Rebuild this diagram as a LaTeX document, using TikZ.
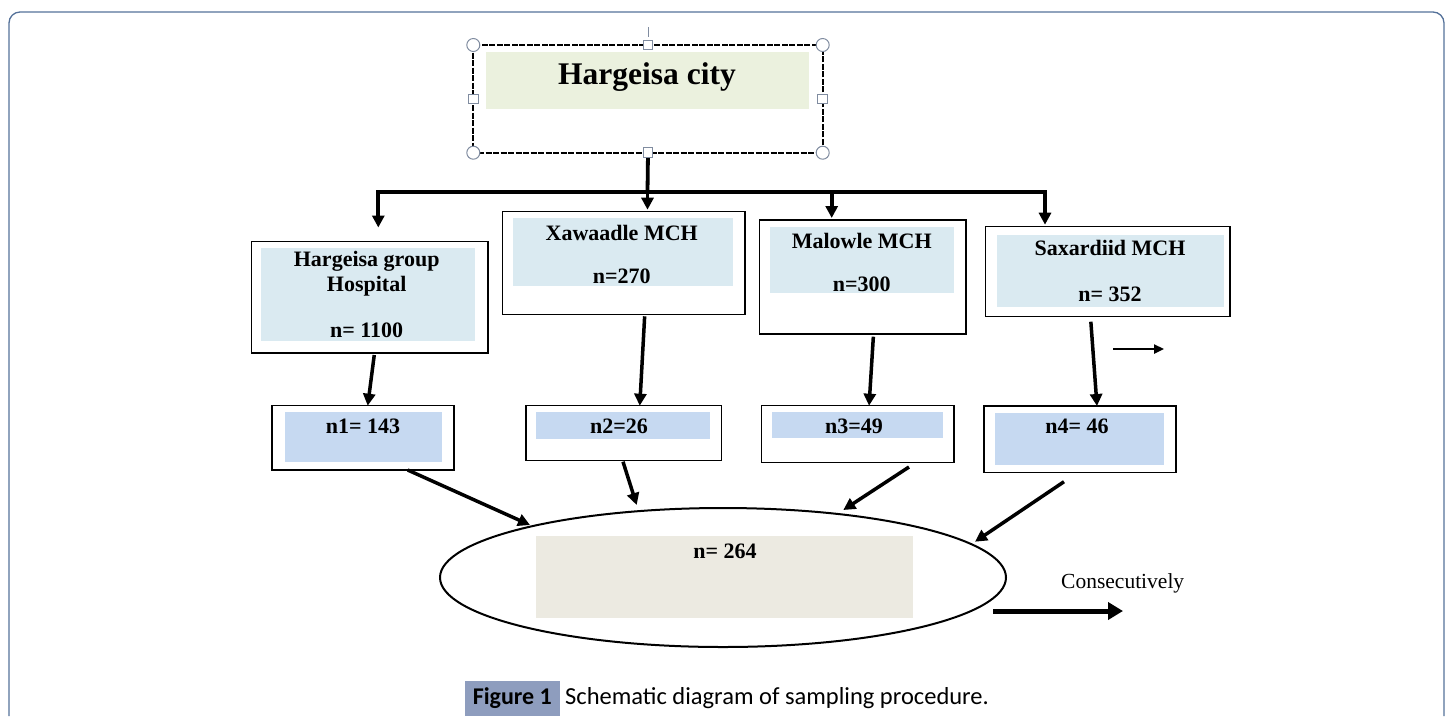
\documentclass[tikz,border=0pt]{standalone}
\usepackage{fontspec}
\setmainfont{Liberation Serif}
\newfontfamily\capfont{Carlito}
\usetikzlibrary{arrows.meta,shapes.geometric,calc}
\definecolor{framecol}{RGB}{84,113,153}
\definecolor{cityfill}{RGB}{235,241,222}
\definecolor{hospfill}{RGB}{218,234,241}
\definecolor{nfill}{RGB}{198,217,241}
\definecolor{ellfill}{RGB}{236,234,225}
\definecolor{capfill}{RGB}{142,157,190}
\definecolor{handlecol}{RGB}{128,140,160}
\tikzset{
  boxnode/.style={draw=black, line width=1.3pt, fill=white, inner sep=0pt, outer sep=0pt},
  fillnode/.style={inner sep=0pt, outer sep=0pt},
  boxtext/.style={inner sep=0pt, font=\fontsize{22}{25}\selectfont\bfseries, align=center},
  trunk/.style={line width=3.8pt, line cap=rect},
  trunkarr/.style={line width=3.8pt, -{Triangle[length=12pt,width=12pt]}},
  arr/.style={line width=3.5pt, -{Triangle[length=12pt,width=12pt]}},
  roundhandle/.style={circle, draw=handlecol, fill=white, line width=1pt, minimum size=13pt, inner sep=0pt},
  squarehandle/.style={rectangle, draw=handlecol, fill=white, line width=1pt, minimum size=9.5pt, inner sep=0pt}
}
\begin{document}
\begin{tikzpicture}[x=1pt,y=-1pt]
\useasboundingbox (0,0) rectangle (1451,716);
% outer frame
\draw[framecol, line width=1.3pt, rounded corners=11pt] (9,716) -- (9,12) -- (1444,12) -- (1444,716);

% top box
\node[boxnode, draw=none, minimum width=349.4pt, minimum height=107.7pt] (top) at (648,98.85) {};
\node[fillnode, fill=cityfill, minimum width=323pt, minimum height=57pt] (topin) at (647.5,80.5) {};
\node[inner sep=0pt, font=\fontsize{31.5}{36}\selectfont\bfseries] (toptext) at (647,77) {Hargeisa city};
\draw[black, line width=2pt, dash pattern=on 6pt off 1.5pt] (top.north west) rectangle (top.south east);

% level 1 boxes
\node[boxnode, minimum width=236.5pt, minimum height=111.5pt] (box1) at (369.75,297.25) {};
\node[fillnode, fill=hospfill, minimum width=214.3pt, minimum height=92.7pt] (box1in) at (367.85,294.35) {};
\node[boxtext] (t1a) at (366.7,274) {Hargeisa group\\Hospital};
\node[boxtext] (t1b) at (366.7,330) {n= 1100};

\node[boxnode, minimum width=242.7pt, minimum height=102.6pt] (box2) at (623.65,263) {};
\node[fillnode, fill=hospfill, minimum width=220pt, minimum height=67.7pt] (box2in) at (623.3,252.15) {};
\node[boxtext] (t2a) at (621.7,233.3) {Xawaadle MCH};
\node[boxtext] (t2b) at (621.7,276) {n=270};

\node[boxnode, minimum width=206.7pt, minimum height=114pt] (box3) at (862.65,277) {};
\node[fillnode, fill=hospfill, minimum width=184pt, minimum height=66.6pt] (box3in) at (862,260) {};
\node[boxtext] (t3a) at (861.7,241) {Malowle MCH};
\node[boxtext] (t3b) at (861.7,284) {n=300};

\node[boxnode, minimum width=244.3pt, minimum height=90pt] (box4) at (1107.85,271.7) {};
\node[fillnode, fill=hospfill, minimum width=227.3pt, minimum height=72pt] (box4in) at (1110.35,271) {};
\node[boxtext] (t4a) at (1110,247.7) {Saxardiid MCH};
\node[boxtext] (t4b) at (1110,294.3) {n= 352};

% level 2 boxes
\node[boxnode, minimum width=182pt, minimum height=64.3pt] (n1) at (363,437.85) {};
\node[fillnode, fill=nfill, minimum width=157.4pt, minimum height=50pt] (n1in) at (363.3,437) {};
\node[boxtext] (tn1) at (363,426) {n1= 143};

\node[boxnode, minimum width=195.5pt, minimum height=55pt] (n2) at (623.75,433.2) {};
\node[fillnode, fill=nfill, minimum width=174pt, minimum height=26.7pt] (n2in) at (623,425.35) {};
\node[boxtext] (tn2) at (619,426) {n2=26};

\node[boxnode, minimum width=192.5pt, minimum height=57pt] (n3) at (857.75,434.2) {};
\node[fillnode, fill=nfill, minimum width=171pt, minimum height=26pt] (n3in) at (857.5,425) {};
\node[boxtext] (tn3) at (854,426) {n3=49};

\node[boxnode, minimum width=192pt, minimum height=66.7pt] (n4) at (1080,439.35) {};
\node[fillnode, fill=nfill, minimum width=169.3pt, minimum height=52.3pt] (n4in) at (1079.35,438.85) {};
\node[boxtext] (tn4) at (1077,426) {n4= 46};

% ellipse
\node[ellipse, draw=black, line width=2pt, fill=white, minimum width=566pt, minimum height=139pt, inner sep=0pt] (ell) at (723,577.5) {};
\node[fillnode, fill=ellfill, minimum width=376.7pt, minimum height=82pt] (ellin) at (724.35,577) {};
\node[boxtext] (tell) at (725,551.7) {n= 264};

% Consecutively
\node[inner sep=0pt, font=\fontsize{21.5}{25}\selectfont, anchor=west] (cons) at (1061,583) {Consecutively};
\coordinate (cs) at (993,611);
\coordinate (ce) at (1123,611);
\draw[line width=5pt, -{Triangle[length=15pt,width=17pt]}] (cs) -- (ce);

% small arrow
\coordinate (ss) at (1113,349);
\coordinate (se) at (1164,349);
\draw[line width=2.3pt, -{Triangle[length=10pt,width=9pt]}] (ss) -- (se);

% trunk connectors
\coordinate (hub) at (647.5,192);
\coordinate (hl) at (378.3,192);
\coordinate (hr) at (1045,192);
\coordinate (hm) at (831.7,192);
\draw[trunk] (top.south) -- (hub);
\draw[trunk] (hl) -- (hr);
\draw[trunkarr, shorten >=14pt] (hl) -- (hl |- box1.north);
\draw[trunkarr, shorten >=2pt] (hub) -- (hub |- box2.north);
\draw[trunkarr, shorten >=2pt] (hm) -- (hm |- box3.north);
\draw[trunkarr, shorten >=2pt] (hr) -- (hr |- box4.north);

% box -> n arrows
\draw[arr] ($(box1.south)+(4.5,2)$) -- ($(n1.north)+(4.7,0)$);
\draw[arr] ($(box2.south)+(21,2)$) -- ($(n2.north)+(16,0)$);
\draw[arr] ($(box3.south)+(10.7,2.7)$) -- ($(n3.north)+(11.3,0)$);
\draw[arr] ($(box4.south)+(-17,5)$) -- ($(n4.north)+(17,0)$);

% n -> ellipse arrows
\draw[arr] ($(n1.south)+(44.7,0)$) -- ($(ell.center)+(-193,-52.5)$);
\draw[arr] ($(n2.south)+(-0.75,1)$) -- ($(ell.center)+(-86.3,-72.5)$);
\draw[arr] ($(n3.south)+(51.25,4.3)$) -- ($(ell.center)+(120.3,-67.5)$);
\draw[arr] ($(n4.south)+(-16,9)$) -- ($(ell.center)+(252,-35.8)$);

% selection handles of top box
\draw[handlecol, line width=0.8pt] (648,27) -- (648,37);
\node[roundhandle] (h1) at (top.north west) {};
\node[roundhandle] (h2) at (top.north east) {};
\node[roundhandle] (h3) at (top.south west) {};
\node[roundhandle] (h4) at (top.south east) {};
\node[squarehandle] (h5) at (top.north) {};
\node[squarehandle] (h6) at (top.south) {};
\node[squarehandle] (h7) at (top.west) {};
\node[squarehandle] (h8) at (top.east) {};

% caption
\node[fill=capfill, inner sep=0pt, minimum width=94.7pt, minimum height=35pt] (capbox) at (512.35,698.5) {};
\node[inner sep=0pt, font=\capfont\fontsize{24}{28}\selectfont\bfseries] (capfig) at (capbox.center) {Figure 1};
\node[inner sep=0pt, anchor=west, font=\capfont\fontsize{24.5}{28}\selectfont] (captext) at (565,698.5) {Schematic diagram of sampling procedure.};
\end{tikzpicture}
\end{document}
